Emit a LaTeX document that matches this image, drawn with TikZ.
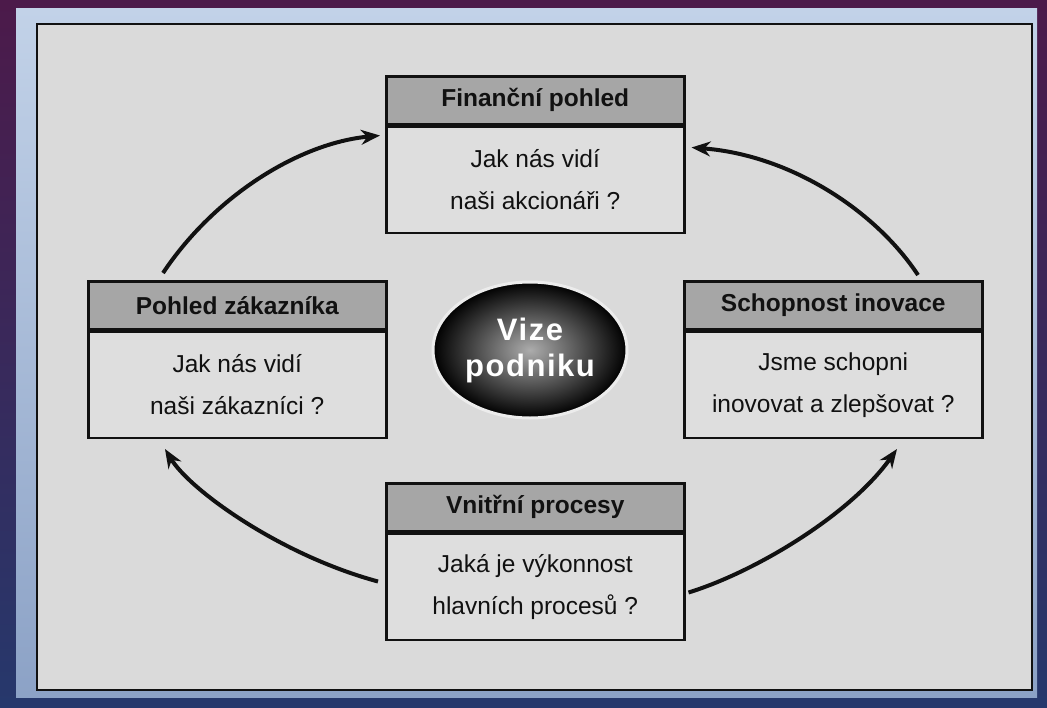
\documentclass[tikz,border=0pt]{standalone}
\usepackage{fontspec}
\setmainfont{Liberation Sans}
\usetikzlibrary{arrows.meta,calc,shapes.geometric}
\definecolor{bgtop}{HTML}{4C1A4A}
\definecolor{bgbot}{HTML}{26386C}
\definecolor{frametop}{HTML}{C2D2E8}
\definecolor{framebot}{HTML}{8CA2C6}
\definecolor{panel}{HTML}{DADADA}
\definecolor{hdrfill}{HTML}{A6A6A6}
\definecolor{bodyfill}{HTML}{DEDEDE}
\definecolor{ink}{HTML}{111111}
\tikzset{
  hdrbox/.style={draw=ink, line width=2.5pt, fill=hdrfill, minimum width=298pt, minimum height=48pt,
    inner sep=0pt, font=\bfseries\fontsize{24.5}{28}\selectfont, text=ink},
  bodybox/.style={draw=ink, line width=2.5pt, fill=bodyfill, minimum width=298pt, minimum height=106pt,
    inner sep=0pt, align=center, font=\fontsize{24.5}{42}\selectfont, text=ink},
  flow/.style={draw=ink, line width=4pt, -{Stealth[length=19pt,width=15pt]}},
  vision/.style={ellipse, minimum width=194pt, minimum height=136pt, draw=white!85!gray, line width=3pt,
    shading=radial, inner color=gray!65, outer color=black, align=center, text=white,
    font=\bfseries\addfontfeatures{LetterSpace=5}\fontsize{31}{36}\selectfont}
}
\begin{document}
\begin{tikzpicture}[x=1pt,y=-1pt]
\useasboundingbox (0,0) rectangle (1047,707);
% outer background
\shade[top color=bgtop, bottom color=bgbot] (0,0) rectangle (1047,707);
% light frame
\shade[top color=frametop, bottom color=framebot] (16,8) rectangle (1037,697);
% panel
\fill[panel] (37,24) rectangle (1032,690);
\draw[ink, line width=1.2pt] (37,24) rectangle (1032,690);

% Financni pohled
\node[hdrbox, anchor=north west] (fh) at (385,75) {Finanční pohled};
\node[bodybox, anchor=north] (fb) at (fh.south) {Jak nás vidí\\naši akcionáři ?};
% Pohled zakaznika
\node[hdrbox, anchor=north west] (ph) at (87,280) {Pohled zákazníka};
\node[bodybox, anchor=north] (pb) at (ph.south) {Jak nás vidí\\naši zákazníci ?};
% Schopnost inovace
\node[hdrbox, anchor=north west] (sh) at (683,280) {Schopnost inovace};
\node[bodybox, anchor=north] (sb) at (sh.south) {Jsme schopni\\inovovat a zlepšovat ?};
% Vnitrni procesy
\node[hdrbox, anchor=north west] (vh) at (385,482) {Vnitřní procesy};
\node[bodybox, anchor=north] (vb) at (vh.south) {Jaká je výkonnost\\hlavních procesů ?};

% centre
\node[vision] (vz) at (530,350) {Vize\\podniku};

% arrows
\draw[flow] ($(ph.north west)+(76,-7)$) .. controls (215,195) and (300,143) .. ($(fb.north west)+(-5,10)$);
\draw[flow] ($(sh.north west)+(235,-5)$) .. controls (875,210) and (790,155) .. ($(fb.north east)+(6,22)$);
\draw[flow] ($(vb.north west)+(-7,49)$) .. controls (280,555) and (190,490) .. ($(pb.south west)+(78,10)$);
\draw[flow] ($(vb.north east)+(3,60)$) .. controls (755,572) and (850,515) .. ($(sb.south west)+(214,10)$);
\end{tikzpicture}
\end{document}
